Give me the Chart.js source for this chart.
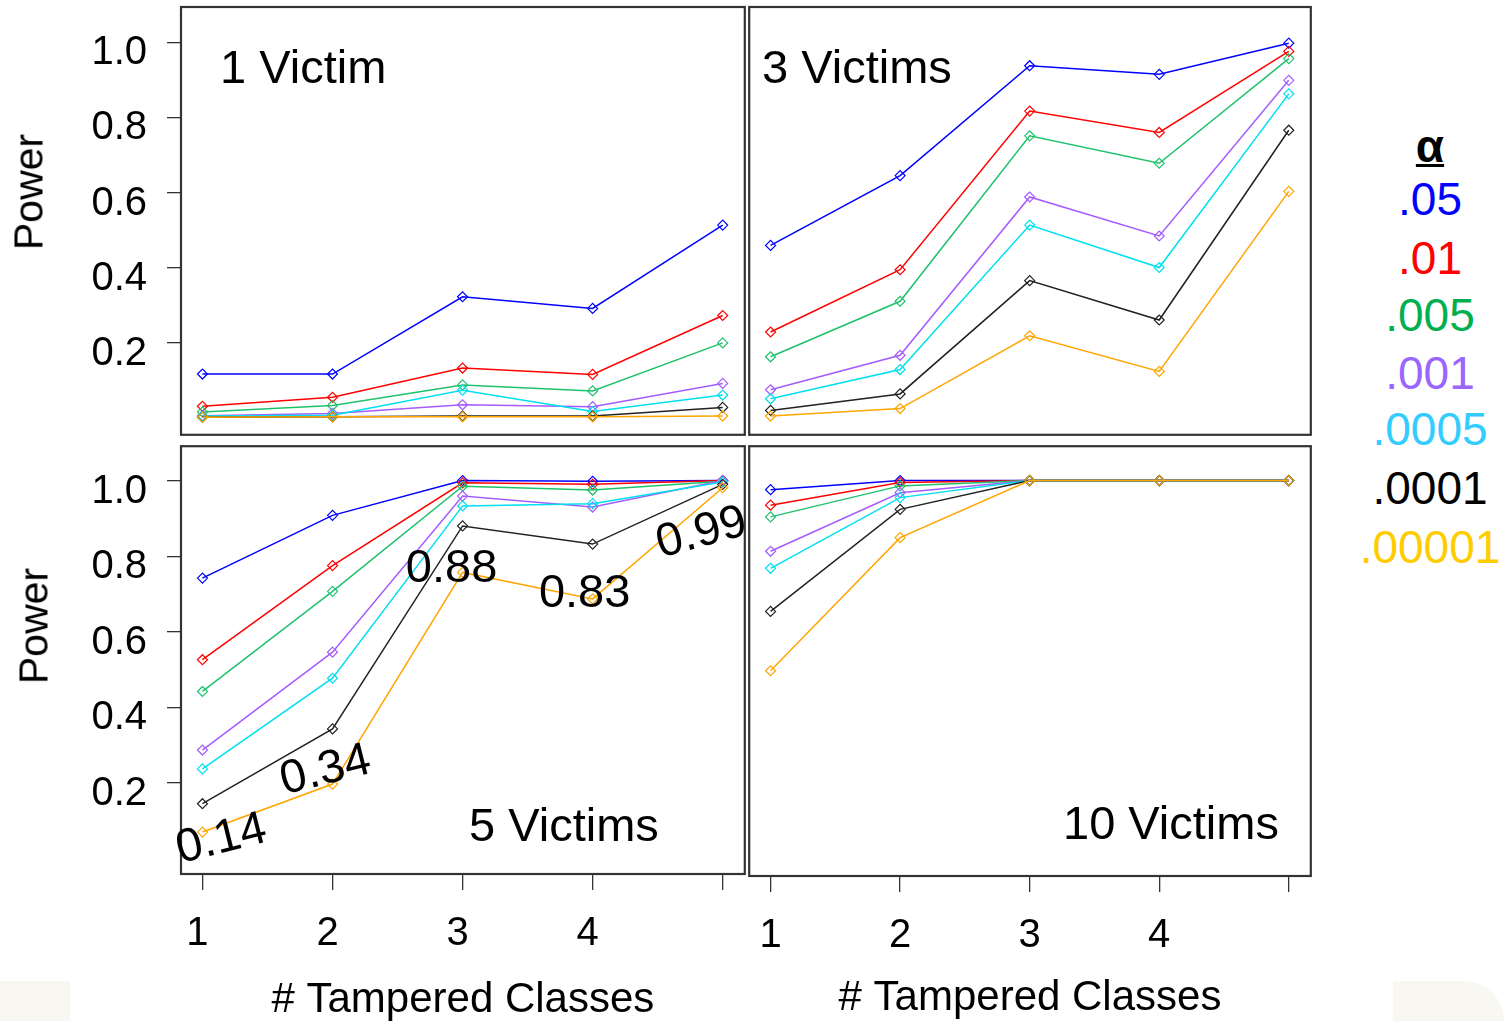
<!DOCTYPE html>
<html>
<head>
<meta charset="utf-8">
<title>Power vs tampered classes</title>
<script src="https://cdn.jsdelivr.net/npm/chart.js@4.4.0/dist/chart.umd.min.js"></script>
<style>
  body { margin: 0; background: #fff; width: 1504px; height: 1021px; overflow: hidden; position: relative;
         font-family: "Liberation Sans", Arial, sans-serif; color: #000; }
  canvas { position: absolute; }
  .txt { position: absolute; white-space: nowrap; }
  .panelTitle { font-size: 47px; line-height: 47px; }
  .axisTitle { font-size: 41px; line-height: 41px; transform: translate(-50%, -50%) rotate(-90deg); }
  .alpha { left: 1330px; width: 200px; text-align: center; font-size: 46px; line-height: 46px; }
  .bg { position: absolute; background: #f9f7f2; }
</style>
</head>
<body>
<div class="bg" style="left:0;top:981px;width:70px;height:40px"></div>
<div class="bg" style="left:1393px;top:981px;width:111px;height:40px;border-top-right-radius:60px"></div>

<canvas id="c1" width="751" height="441" style="left:0;top:0"></canvas>
<canvas id="c3" width="574" height="441" style="left:743px;top:0"></canvas>
<canvas id="c5" width="751" height="581" style="left:0;top:440px"></canvas>
<canvas id="c10" width="574" height="581" style="left:743px;top:440px"></canvas>

<div class="txt panelTitle" style="left:220px;top:43px">1 Victim</div>
<div class="txt panelTitle" style="left:762px;top:43px">3 Victims</div>
<div class="txt panelTitle" style="left:469px;top:801px">5 Victims</div>
<div class="txt panelTitle" style="left:1063px;top:799px">10 Victims</div>

<div class="txt axisTitle" style="left:29px;top:192px">Power</div>
<div class="txt axisTitle" style="left:34px;top:626px">Power</div>

<div id="legend"></div>

<script>
// ===================================
// DATA
// ===================================

const tampered = [1, 2, 3, 4, 5];
const xTickLabels = ['1', '2', '3', '4', ''];
const yTicks = [0.2, 0.4, 0.6, 0.8, 1.0];
const alphaLabels = ['.05', '.01', '.005', '.001', '.0005', '.0001', '.00001'];

// rows follow alphaLabels order
const power1 = [
    [0.116, 0.116, 0.322, 0.291, 0.513],
    [0.030, 0.054, 0.132, 0.115, 0.272],
    [0.015, 0.032, 0.087, 0.071, 0.199],
    [0.005, 0.011, 0.034, 0.029, 0.091],
    [0.004, 0.006, 0.073, 0.016, 0.060],
    [0.001, 0.002, 0.004, 0.004, 0.027],
    [0.001, 0.002, 0.002, 0.002, 0.004]
];
const power3 = [
    [0.459, 0.645, 0.938, 0.915, 0.998],
    [0.228, 0.394, 0.817, 0.760, 0.976],
    [0.162, 0.310, 0.751, 0.678, 0.957],
    [0.074, 0.166, 0.588, 0.484, 0.899],
    [0.050, 0.128, 0.513, 0.400, 0.863],
    [0.019, 0.063, 0.365, 0.260, 0.766],
    [0.004, 0.024, 0.218, 0.123, 0.603]
];
const power5 = [
    [0.742, 0.908, 1.000, 0.998, 1.000],
    [0.526, 0.775, 0.994, 0.990, 1.000],
    [0.442, 0.707, 0.985, 0.975, 0.998],
    [0.287, 0.546, 0.959, 0.930, 1.000],
    [0.237, 0.477, 0.933, 0.939, 0.996],
    [0.145, 0.343, 0.880, 0.832, 0.990],
    [0.070, 0.197, 0.757, 0.687, 0.981]
];
const power10 = [
    [0.976, 1.000, 1.000, 1.000, 1.000],
    [0.935, 0.995, 1.000, 1.000, 1.000],
    [0.904, 0.986, 1.000, 1.000, 1.000],
    [0.813, 0.968, 1.000, 1.000, 1.000],
    [0.768, 0.955, 1.000, 1.000, 1.000],
    [0.654, 0.924, 1.000, 1.000, 1.000],
    [0.497, 0.849, 1.000, 1.000, 1.000]
];
// values written on the .0001 line of the 5 victims panel
const noteLabels = ['0.14', '0.34', '0.88', '0.83', '0.99'];

// ===================================
// STYLE
// ===================================

const FONT = '"Liberation Sans", Arial, sans-serif';
const lineColors = ['#0000ff', '#ff0000', '#1fc26c', '#a55cff', '#00e0f0', '#222222', '#ffa500'];
const legendColors = ['#0000ff', '#ff0000', '#00b050', '#9966ff', '#33ccff', '#000000', '#ffcc00'];
const legendTops = [176, 235, 292, 350, 406, 465, 524];
const noteStyle = [
    { dx: 19, dy: 36, rot: -14 },
    { dx: -7, dy: 42, rot: -14 },
    { dx: -11, dy: 43, rot: 0 },
    { dx: -8, dy: 50, rot: 0 },
    { dx: -21, dy: 49, rot: -15 }
];

// legend column on the right
const legend = document.getElementById('legend');
legend.innerHTML = '<div class="txt alpha" style="top:123px;font-weight:bold;text-decoration:underline;text-decoration-thickness:3px">α</div>' +
    alphaLabels.map((a, i) =>
        `<div class="txt alpha" style="top:${legendTops[i]}px;color:${legendColors[i]}">${a}</div>`).join('');

// ===================================
// PLUGINS
// ===================================

// box around each panel
const frame = {
    id: 'frame',
    afterDraw(chart) {
        const { ctx, chartArea: a } = chart;
        ctx.save();
        ctx.strokeStyle = '#333';
        ctx.lineWidth = 2.2;
        ctx.strokeRect(a.left, a.top, a.right - a.left, a.bottom - a.top);
        ctx.restore();
    }
};

// tilted value notes in the 5 victims panel
const valueNotes = {
    id: 'valueNotes',
    afterDraw(chart) {
        const { ctx, scales: { x, y } } = chart;
        ctx.save();
        ctx.font = '47px ' + FONT;
        ctx.fillStyle = '#000';
        ctx.textAlign = 'center';
        ctx.textBaseline = 'middle';
        noteLabels.forEach((t, i) => {
            const s = noteStyle[i];
            ctx.save();
            ctx.translate(x.getPixelForValue(tampered[i]) + s.dx, y.getPixelForValue(power5[5][i]) + s.dy);
            ctx.rotate(s.rot * Math.PI / 180);
            ctx.fillText(t, 0, 0);
            ctx.restore();
        });
        ctx.restore();
    }
};

// ===================================
// PANELS
// ===================================

function makePanel(canvasId, rows, cfg) {
    const datasets = rows.map((vals, i) => ({
        label: alphaLabels[i],
        data: vals.map((v, j) => ({ x: tampered[j], y: v })),
        borderColor: lineColors[i],
        borderWidth: 1.5,
        pointStyle: 'rectRot',
        pointRadius: 5,
        pointBorderWidth: 1.2,
        pointBackgroundColor: 'rgba(0,0,0,0)',
        pointBorderColor: lineColors[i],
        tension: 0,
        order: rows.length - 1 - i
    }));

    return new Chart(document.getElementById(canvasId), {
        type: 'line',
        data: { datasets },
        options: {
            responsive: false,
            animation: false,
            layout: { padding: cfg.padding },
            plugins: { legend: { display: false }, tooltip: { enabled: false } },
            scales: {
                x: {
                    type: 'linear',
                    min: 0.835,
                    max: 5.17,
                    display: cfg.showX,
                    afterBuildTicks: s => { s.ticks = tampered.map(v => ({ value: v })); },
                    afterFit: s => {
                        if (cfg.showX) s.height = cfg.xHeight;
                        s.paddingLeft = 0;
                        s.paddingRight = 0;
                    },
                    grid: { drawOnChartArea: false, tickLength: 16, color: '#333', lineWidth: 1.3 },
                    border: { display: false },
                    ticks: {
                        callback: (v, i) => xTickLabels[i],
                        font: { size: 40, family: FONT },
                        color: '#000',
                        padding: 20,
                        labelOffset: cfg.xLabelOffset,
                        maxRotation: 0,
                        autoSkip: false
                    },
                    title: {
                        display: true,
                        text: '# Tampered Classes',
                        color: '#000',
                        font: { size: 42, family: FONT, lineHeight: 1 },
                        padding: { top: 0, bottom: cfg.titlePad }
                    }
                },
                y: {
                    min: cfg.yMin,
                    max: cfg.yMax,
                    display: cfg.showY,
                    afterBuildTicks: s => { s.ticks = yTicks.map(v => ({ value: v })); },
                    afterFit: s => {
                        if (cfg.showY) s.width = 181;
                        s.paddingTop = 0;
                        s.paddingBottom = 0;
                    },
                    grid: { drawOnChartArea: false, tickLength: 14, color: '#333', lineWidth: 1.3 },
                    border: { display: false },
                    ticks: {
                        callback: v => v.toFixed(1),
                        font: { size: 40, family: FONT },
                        color: '#000',
                        padding: 20,
                        labelOffset: 11
                    }
                }
            }
        },
        plugins: [frame].concat(cfg.extra || [])
    });
}

makePanel('c1', power1, {
    padding: { top: 7, right: 3, bottom: 3, left: 0 },
    showX: false, showY: true, yMin: -0.046, yMax: 1.0945
});
makePanel('c3', power3, {
    padding: { top: 7, right: 6, bottom: 3, left: 3 },
    showX: false, showY: false, yMin: -0.046, yMax: 1.0945
});
makePanel('c5', power5, {
    padding: { top: 3, right: 3, bottom: 0, left: 0 },
    showX: true, showY: true, xHeight: 147, xLabelOffset: -5, titlePad: 0,
    yMin: -0.041, yMax: 1.091, extra: [valueNotes]
});
makePanel('c10', power10, {
    padding: { top: 3, right: 6, bottom: 0, left: 3 },
    showX: true, showY: false, xHeight: 145, xLabelOffset: 0, titlePad: 2,
    yMin: -0.046, yMax: 1.091
});
</script>
</body>
</html>
